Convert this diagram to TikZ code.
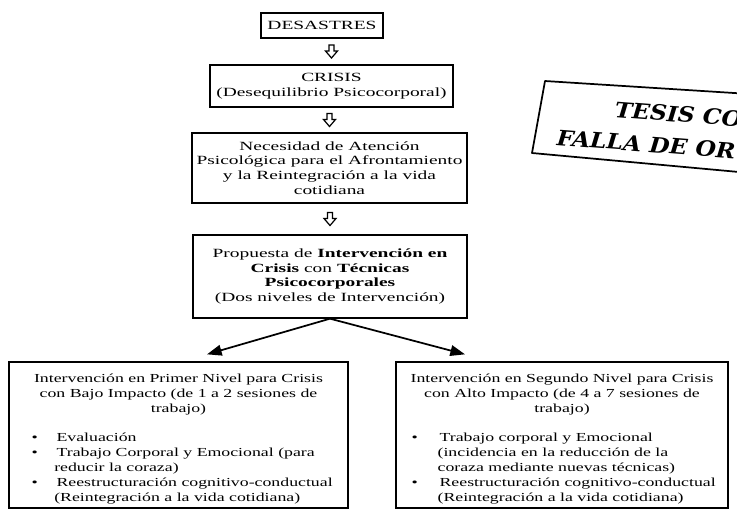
\documentclass[tikz,border=0pt]{standalone}
\usepackage{fontspec}
\setmainfont{Liberation Serif}
\newfontfamily\topfont{Liberation Serif}[FakeStretch=1.55]
\newfontfamily\botfont{Liberation Serif}[FakeStretch=1.45]
\newfontfamily\stampfont{DejaVu Serif}[FakeStretch=1.1]
\usetikzlibrary{arrows.meta,calc}
\def\pxu{0.75pt}
\begin{document}
\begin{tikzpicture}[x=0.75pt,y=-0.75pt,
  box/.style={draw, line width=1pt, align=center, inner sep=0pt,
    font=\topfont\fontsize{9.4}{11}\selectfont},
  bigbox/.style={draw, line width=1pt, inner sep=0pt},
  bottxt/.style={inner sep=0pt, font=\botfont\fontsize{9.2}{11.25}\selectfont},
  hollow/.style={draw, line width=0.9pt, fill=white, line join=miter},
  arr/.style={line width=1.3pt, -{Triangle[length=11pt,width=8pt]}},
  stamptxt/.style={inner sep=0pt, rotate=-4.5, anchor=base west,
    font=\stampfont\bfseries\itshape\fontsize{16}{18}\selectfont}]
\useasboundingbox (0,0) rectangle (737,512);
\clip (0,0) rectangle (737,512);

\node[box, minimum width=122*\pxu, minimum height=25*\pxu] (des) at (322,25.5) {DESASTRES};
\node[box, minimum width=243*\pxu, minimum height=42*\pxu] (cri) at (331.5,86) {CRISIS\\(Desequilibrio Psicocorporal)};
\node[box, minimum width=275*\pxu, minimum height=70*\pxu] (nec) at (329.5,168) {Necesidad de Atención\\Psicológica para el Afrontamiento\\y la Reintegración a la vida\\cotidiana};
\node[box, minimum width=274*\pxu, minimum height=83*\pxu] (pro) at (330,276.5) {Propuesta de \textbf{Intervención en}\\\textbf{Crisis} con \textbf{Técnicas}\\\textbf{Psicocorporales}\\(Dos niveles de Intervención)};

\foreach \a/\b in {des/cri, cri/nec, nec/pro}
  \draw[hollow] ($(\a.south -| \b.north)!0.5!(\b.north)$) ++(-2.5,-6.5) -- ++(5,0) -- ++(0,6) -- ++(3.5,0) -- ++(-6,7) -- ++(-6,-7) -- ++(3.5,0) -- cycle;

% bottom boxes
\node[bigbox, minimum width=339*\pxu, minimum height=146*\pxu] (lft) at (178.5,435) {};
\node[bigbox, minimum width=332*\pxu, minimum height=146*\pxu] (rgt) at (562,435) {};

\node[bottxt, align=center, anchor=north] (lfth) at ($(lft.north)+(0,12)$)
  {Intervención en Primer Nivel para Crisis\\con Bajo Impacto (de 1 a 2 sesiones de\\trabajo)};
\node[bottxt, align=left, anchor=north west] (lftl) at ($(lft.north west)+(23,71)$)
  {\makebox[18.75pt][l]{\textbullet}Evaluación\\
   \makebox[18.75pt][l]{\textbullet}Trabajo Corporal y Emocional (para\\
   \hspace{17pt}reducir la coraza)\\
   \makebox[18.75pt][l]{\textbullet}Reestructuración cognitivo-conductual\\
   \hspace{17pt}(Reintegración a la vida cotidiana)};

\node[bottxt, align=center, anchor=north] (rgth) at ($(rgt.north)+(0,12)$)
  {Intervención en Segundo Nivel para Crisis\\con Alto Impacto (de 4 a 7 sesiones de\\trabajo)};
\node[bottxt, align=left, anchor=north west] (rgtl) at ($(rgt.north west)+(16,71)$)
  {\makebox[21pt][l]{\textbullet}Trabajo corporal y Emocional\\
   \hspace{19.5pt}(incidencia en la reducción de la\\
   \hspace{19.5pt}coraza mediante nuevas técnicas)\\
   \makebox[21pt][l]{\textbullet}Reestructuración cognitivo-conductual\\
   \hspace{19.5pt}(Reintegración a la vida cotidiana)};

\draw[arr] (pro.south) -- ($(lft.north)+(28.5,-7)$);
\draw[arr] (pro.south) -- ($(rgt.north)+(-97,-7)$);

% stamp
\draw[line width=1.3pt, line join=round] (750,94) -- (545,81) -- (532,153) -- (750,173);
\node[stamptxt] (st1) at (614,117) {TESIS CO};
\node[stamptxt] (st2) at (556,145) {FALLA DE OR};
\end{tikzpicture}
\end{document}
